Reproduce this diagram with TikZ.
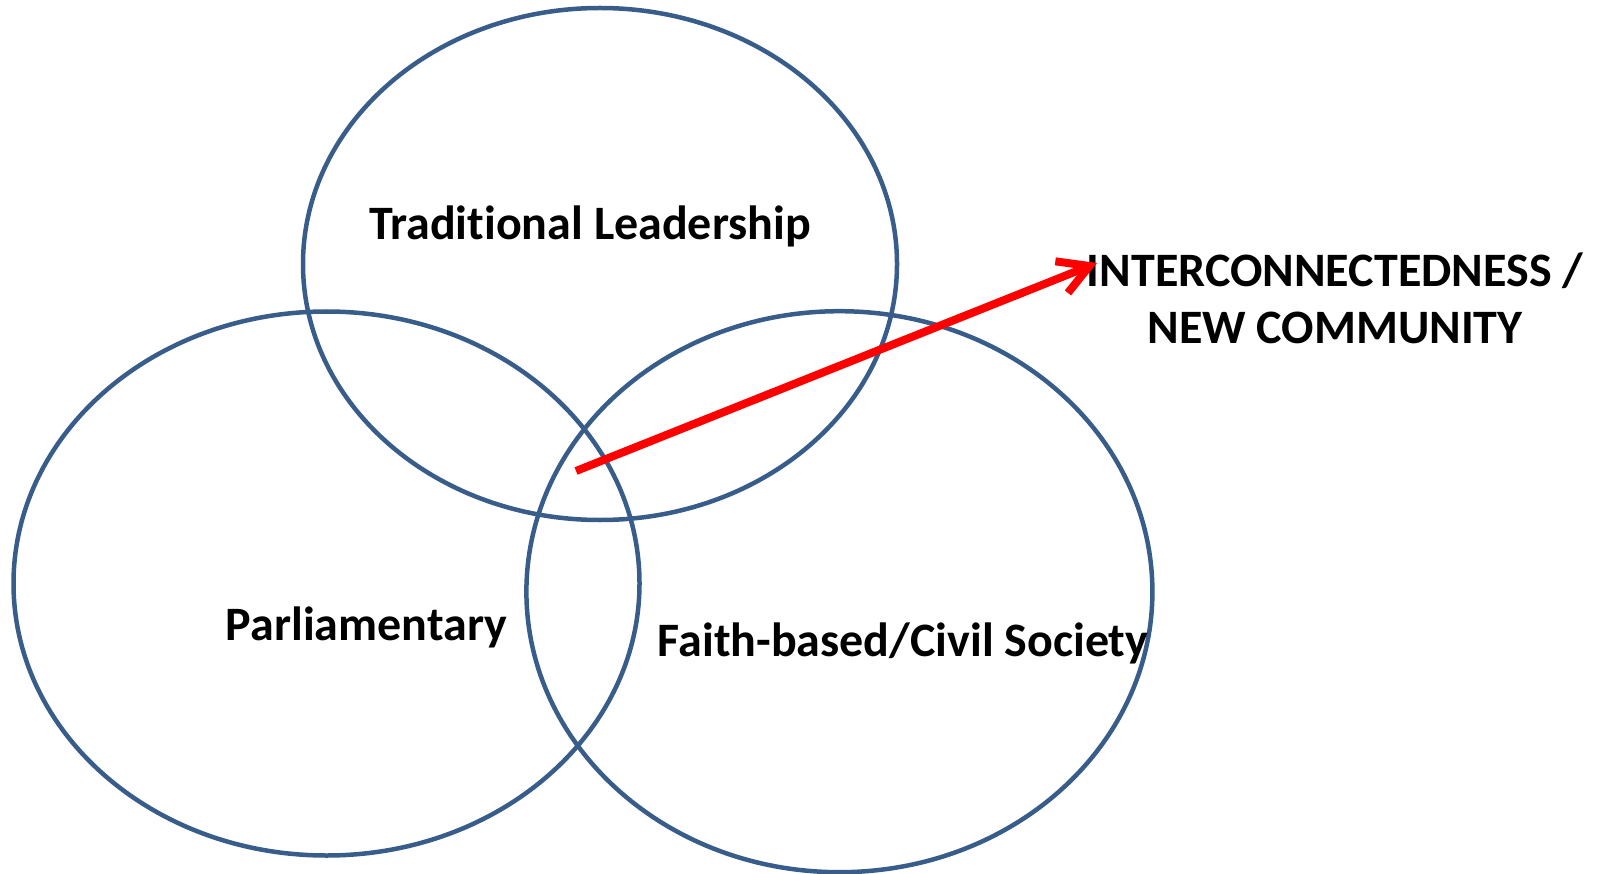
\documentclass[tikz,border=0pt]{standalone}
\usepackage{fontspec}
\setmainfont{Carlito}[Ligatures=NoCommon]
\usetikzlibrary{arrows.meta,shapes.geometric}
\definecolor{ringblue}{RGB}{56,93,138}

\begin{document}
\begin{tikzpicture}[x=1pt,y=-1pt,
	ring/.style={draw=ringblue,line width=4.5pt,ellipse,inner sep=0pt},
	lbl/.style={font=\fontsize{48}{57}\selectfont\bfseries,inner sep=0pt,align=center}]

	\useasboundingbox (0,0) rectangle (1605,874);

	\node[ring,minimum width=594,minimum height=512] (trad) at (600,264) {};
	\node[ring,minimum width=626,minimum height=544] (parl) at (326.5,583.5) {};
	\node[ring,minimum width=626,minimum height=561] (faith) at (839.4,591.7) {};

	\node[lbl,anchor=base] (tradtext) at (590,240) {Traditional Leadership};
	\node[lbl,anchor=base] (parltext) at (366.5,640) {Parliamentary};
	\node[lbl,anchor=base] (faithtext) at (903,656) {Faith-based/Civil Society};
	\node[lbl,anchor=base] (inter) at (1335,344) {INTERCONNECTEDNESS /\\NEW COMMUNITY};

	\coordinate (core) at (576,471);
	\coordinate (tip) at (1097,263);
	\draw[red,line width=8pt,-{Straight Barb[length=30pt,width=34pt]}] (core) -- (tip);
\end{tikzpicture}
\end{document}
